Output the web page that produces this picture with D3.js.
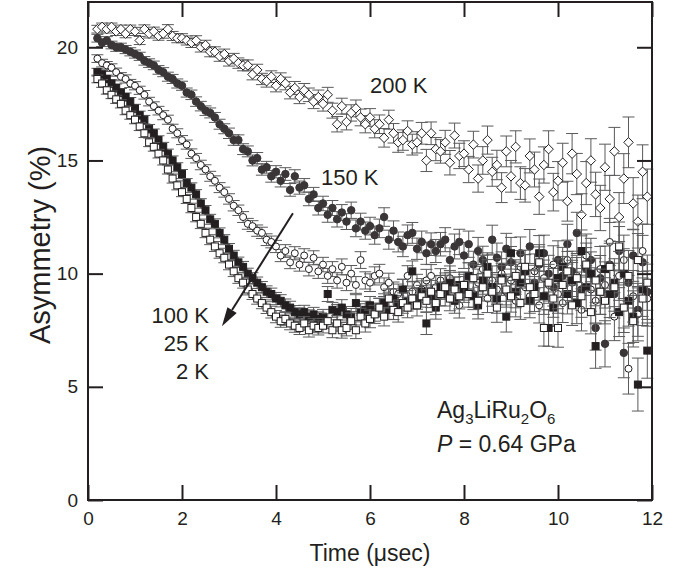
<!DOCTYPE html>
<html>
<head>
<meta charset="utf-8">
<script src="https://cdn.jsdelivr.net/npm/d3@7"></script>
<style>
  html, body { margin: 0; padding: 0; background: #fff; }
  svg { display: block; font-family: "Liberation Sans", Arial, Helvetica, sans-serif; }
</style>
</head>
<body>
<svg id="chart" width="675" height="573"></svg>
<script>
// ---------------- data ----------------
const times = [
  0.2,0.3,0.4,0.5,0.6,0.7,0.8,0.9,
  1.0,1.1,1.2,1.3,1.4,1.5,1.6,1.7,1.8,1.9,
  2.0,2.1,2.2,2.3,2.4,2.5,2.6,2.7,2.8,2.9,
  3.0,3.1,3.2,3.3,3.4,3.5,3.6,3.7,3.8,3.9,
  4.0,4.1,4.2,4.3,4.4,4.5,4.6,4.7,4.8,4.9,
  5.0,5.1,5.2,5.3,5.4,5.5,5.6,5.7,5.8,5.9,
  6.0,6.1,6.2,6.3,6.4,6.5,6.6,6.7,6.8,6.9,
  7.0,7.1,7.2,7.3,7.4,7.5,7.6,7.7,7.8,7.9,
  8.0,8.1,8.2,8.3,8.4,8.5,8.6,8.7,8.8,8.9,
  9.0,9.1,9.2,9.3,9.4,9.5,9.6,9.7,9.8,9.9,
  10.0,10.1,10.2,10.3,10.4,10.5,10.6,10.7,10.8,10.9,
  11.0,11.1,11.2,11.3,11.4,11.5,11.6,11.7,11.8,11.9
];

// error bar half-lengths (%), one per time bin
const errs = [
  0.17,0.17,0.17,0.17,0.18,0.18,0.18,0.18,
  0.18,0.18,0.19,0.19,0.19,0.19,0.20,0.20,0.20,0.20,
  0.20,0.20,0.21,0.21,0.21,0.21,0.22,0.22,0.22,0.22,
  0.23,0.23,0.23,0.24,0.24,0.24,0.25,0.25,0.26,0.26,
  0.27,0.27,0.28,0.28,0.29,0.29,0.30,0.30,0.31,0.31,
  0.32,0.33,0.33,0.34,0.35,0.35,0.36,0.37,0.37,0.38,
  0.39,0.40,0.41,0.41,0.42,0.43,0.44,0.45,0.45,0.46,
  0.47,0.48,0.49,0.50,0.51,0.52,0.53,0.54,0.55,0.56,
  0.57,0.58,0.59,0.60,0.61,0.62,0.64,0.65,0.66,0.68,
  0.70,0.71,0.72,0.74,0.75,0.77,0.78,0.80,0.81,0.83,
  0.85,0.86,0.88,0.89,0.91,0.93,0.95,0.96,0.98,1.00,
  1.02,1.04,1.06,1.08,1.10,1.12,1.14,1.17,1.19,1.22
];

const a200K = [
  20.8,20.9,20.8,20.9,20.7,20.8,20.6,20.8,
  20.7,20.3,20.8,20.6,20.7,20.5,20.6,20.8,20.5,20.4,
  20.4,20.3,20.2,20.3,20.0,20.1,19.8,19.8,19.6,19.7,
  19.4,19.5,19.3,19.2,19.2,18.8,19.0,18.6,18.5,18.7,
  18.3,18.6,18.4,18.0,18.2,17.8,18.1,17.9,17.6,17.8,
  17.5,17.9,17.2,16.6,17.4,16.7,17.1,17.3,16.9,16.6,
  16.9,16.4,16.6,16.0,16.8,16.2,15.8,15.9,16.3,15.7,
  15.8,16.2,15.0,16.2,15.5,15.4,15.8,14.9,16.1,15.2,
  15.3,14.6,15.7,14.2,15.0,15.9,14.5,14.8,13.8,15.4,
  14.3,15.6,14.0,13.9,15.2,14.6,13.4,14.8,15.5,13.6,
  14.1,14.9,13.2,15.3,14.4,12.6,14.0,15.0,13.5,12.9,
  14.7,13.3,15.4,12.5,14.2,15.8,13.1,12.3,14.5,13.4
];

const a150K = [
  20.4,20.2,20.3,20.1,20.0,20.0,19.9,19.8,
  19.7,19.6,19.4,19.3,19.2,19.0,18.9,18.7,18.6,18.4,
  18.3,18.0,17.9,17.6,17.4,17.2,17.1,16.9,16.6,16.4,
  16.2,15.9,15.9,15.5,15.4,15.0,15.1,14.6,14.7,14.3,
  14.5,14.1,14.4,13.7,14.3,13.8,13.9,13.3,13.5,12.9,
  13.1,12.6,12.9,12.4,12.7,12.3,12.8,12.0,12.3,11.9,
  12.1,11.7,12.0,12.5,11.5,11.9,11.4,11.2,11.7,11.8,
  11.1,11.4,10.9,11.3,11.0,11.3,11.5,10.6,11.2,11.4,
  10.8,11.3,10.4,11.0,10.6,10.2,11.5,10.7,10.3,11.1,
  10.5,9.8,10.9,10.1,11.2,9.6,10.4,10.9,10.0,9.4,
  10.6,9.9,11.3,10.1,11.8,9.3,10.2,10.6,7.6,9.8,
  6.9,10.4,9.1,11.0,6.5,9.6,10.8,8.4,10.5,9.2
];

const a100K = [
  19.5,19.3,19.2,19.1,18.9,18.7,18.6,18.4,
  18.3,18.1,17.9,17.6,17.4,17.2,17.0,16.8,16.4,16.2,
  15.9,15.7,15.3,15.1,14.8,14.6,14.3,14.1,13.8,13.6,
  13.3,13.0,12.8,12.5,12.2,12.1,11.9,11.8,11.5,11.4,
  11.2,10.8,11.0,10.5,10.9,10.4,10.8,10.2,10.7,10.1,
  10.4,9.9,10.2,9.7,10.3,9.6,10.0,9.5,10.6,9.7,
  9.6,9.9,10.0,9.4,9.6,9.2,9.1,9.3,9.9,9.2,
  9.5,9.3,9.7,9.9,9.4,9.7,9.5,9.8,9.3,8.6,
  9.4,9.9,9.1,9.6,10.2,8.9,9.7,9.3,10.0,9.2,
  9.7,8.8,10.3,9.4,9.0,10.1,8.6,9.8,9.5,10.4,
  9.1,8.7,10.6,9.6,9.9,8.4,10.8,9.3,8.8,10.2,
  9.5,11.4,8.1,9.9,10.6,5.8,9.0,8.2,11.0,8.9
];

const a25K = [
  18.9,18.8,18.6,18.4,18.2,18.0,17.8,17.6,
  17.3,17.0,16.8,16.4,16.2,15.9,15.6,15.3,15.0,14.7,
  14.4,14.0,13.8,13.5,13.1,12.8,12.4,12.2,11.8,11.5,
  11.1,10.8,10.5,10.3,10.0,9.8,9.6,9.4,9.2,9.1,
  8.9,8.8,8.6,8.5,8.3,8.2,8.3,8.1,8.2,8.0,
  8.1,9.1,8.4,8.3,8.5,8.2,8.1,8.7,8.3,8.4,
  8.6,8.3,8.5,8.7,8.4,8.9,8.6,9.3,8.8,10.1,
  8.9,9.2,7.8,9.0,8.5,9.4,9.1,9.6,8.8,9.5,
  9.3,9.9,9.0,8.6,9.7,10.3,9.4,8.9,9.8,8.1,
  10.9,9.2,9.6,10.1,8.8,9.4,10.9,9.0,7.6,8.5,
  9.8,10.3,9.1,9.7,8.7,11.0,9.4,10.0,6.8,9.2,
  10.2,9.1,9.6,8.3,10.0,8.8,8.1,5.1,9.3,6.6
];

const a2K = [
  18.6,18.4,18.1,17.9,17.7,17.5,17.2,17.0,
  16.8,16.5,16.2,15.8,15.6,15.3,15.0,14.6,14.2,13.9,
  13.6,13.3,12.9,12.5,12.2,11.8,11.5,11.2,10.9,10.7,
  10.4,10.1,9.8,9.6,9.3,9.1,8.9,8.7,8.5,8.3,
  8.1,7.9,8.0,7.8,7.7,7.6,7.8,7.5,7.7,7.6,
  7.7,7.9,7.5,7.8,7.5,7.6,7.9,7.5,8.1,7.8,
  8.0,8.2,8.5,8.1,8.9,8.4,8.3,8.7,8.5,8.9,
  8.6,9.0,8.8,9.2,8.7,9.1,9.4,8.9,9.3,9.0,
  9.5,9.1,9.8,8.8,9.4,10.0,9.2,8.5,9.7,9.3,
  9.0,9.9,8.7,10.3,9.4,9.1,10.5,7.6,9.6,8.9,
  7.6,9.5,10.1,8.6,9.8,9.0,10.4,8.3,9.7,9.2,
  8.8,10.3,9.4,11.2,8.5,9.9,7.9,10.6,8.9,9.6
];

const xTicks = [0, 2, 4, 6, 8, 10, 12];
const yTicks = [0, 5, 10, 15, 20];
const tempLabels = ["200 K", "150 K", "100 K", "25 K", "2 K"];

// ---------------- drawing ----------------
const svg = d3.select("#chart");
const x = d3.scaleLinear().domain([0, 12]).range([88, 652]);
const y = d3.scaleLinear().domain([0, 22]).range([500, 2]);

const ink = "#231f20";
const errColor = "#5a5a5c";

const series = [
  { name: "200 K", vals: a200K, shape: "diamond", fill: "#fff", stroke: ink, size: 9.5 },
  { name: "150 K", vals: a150K, shape: "circle",  fill: "#3a3536", stroke: "#3a3536", size: 8.5 },
  { name: "100 K", vals: a100K, shape: "circle",  fill: "#fff", stroke: ink, size: 8 },
  { name: "25 K",  vals: a25K,  shape: "square",  fill: "#231f20", stroke: ink, size: 8 },
  { name: "2 K",   vals: a2K,   shape: "square",  fill: "#fff", stroke: ink, size: 8 }
];

const plot = svg.append("g");
const capHalf = 6;

series.forEach(s => {
  const pts = times.map((t, i) => ({ t: t, v: s.vals[i], e: errs[i] }));
  const g = plot.append("g");
  const eb = g.append("g").attr("stroke", errColor).attr("stroke-width", 1).attr("fill", "none");
  eb.selectAll("line.v").data(pts).join("line")
    .attr("x1", d => x(d.t)).attr("x2", d => x(d.t))
    .attr("y1", d => y(d.v - d.e)).attr("y2", d => y(d.v + d.e));
  eb.selectAll("line.top").data(pts).join("line").attr("class", "top")
    .attr("x1", d => x(d.t) - capHalf).attr("x2", d => x(d.t) + capHalf)
    .attr("y1", d => y(d.v + d.e)).attr("y2", d => y(d.v + d.e));
  eb.selectAll("line.bot").data(pts).join("line").attr("class", "bot")
    .attr("x1", d => x(d.t) - capHalf).attr("x2", d => x(d.t) + capHalf)
    .attr("y1", d => y(d.v - d.e)).attr("y2", d => y(d.v - d.e));
  const mk = g.append("g").attr("fill", s.fill).attr("stroke", s.stroke).attr("stroke-width", 1);
  const r = s.size / 2;
  if (s.shape === "circle") {
    mk.selectAll("circle").data(pts).join("circle")
      .attr("cx", d => x(d.t)).attr("cy", d => y(d.v)).attr("r", r - 0.5);
  } else if (s.shape === "square") {
    mk.selectAll("rect").data(pts).join("rect")
      .attr("x", d => x(d.t) - r + 0.5).attr("y", d => y(d.v) - r + 0.5)
      .attr("width", s.size - 1).attr("height", s.size - 1);
  } else {
    mk.selectAll("path").data(pts).join("path")
      .attr("d", d => {
        const cx = x(d.t), cy = y(d.v);
        return `M${cx},${cy - r}L${cx + r},${cy}L${cx},${cy + r}L${cx - r},${cy}Z`;
      });
  }
});

// ---------------- axes ----------------
const tickLen = 15;
const fontTick = 19;
const axB = svg.append("g").attr("transform", "translate(0,500)")
  .call(d3.axisBottom(x).tickValues(xTicks).tickSize(-tickLen).tickPadding(12).tickFormat(d3.format("d")));
const axT = svg.append("g").attr("transform", "translate(0,2)")
  .call(d3.axisTop(x).tickValues(xTicks).tickSize(-tickLen).tickFormat(""));
const axL = svg.append("g").attr("transform", "translate(88,0)")
  .call(d3.axisLeft(y).tickValues(yTicks).tickSize(-tickLen).tickPadding(10).tickFormat(d3.format("d")));
const axR = svg.append("g").attr("transform", "translate(652,0)")
  .call(d3.axisRight(y).tickValues(yTicks).tickSize(-tickLen).tickFormat(""));

[axB, axT, axL, axR].forEach(a => {
  a.select(".domain").remove();
  a.selectAll(".tick line").attr("stroke", ink).attr("stroke-width", 2);
  a.selectAll(".tick text").attr("fill", ink)
    .style("font-family", "'Liberation Sans', Arial, sans-serif").style("font-size", fontTick + "px");
});

// frame
svg.append("rect").attr("x", 88).attr("y", 2).attr("width", 652 - 88).attr("height", 498)
  .attr("fill", "none").attr("stroke", ink).attr("stroke-width", 2);

// axis titles
svg.append("text").attr("x", 370).attr("y", 561).attr("text-anchor", "middle")
  .attr("fill", ink).style("font-size", "23px").text("Time (μsec)");
svg.append("text").attr("transform", "translate(50,245) rotate(-90)").attr("text-anchor", "middle")
  .attr("fill", ink).style("font-size", "29px").text("Asymmetry (%)");

// temperature labels
const tl = svg.append("g").attr("fill", ink).style("font-size", "22px");
tl.append("text").attr("x", 370).attr("y", 93).text(tempLabels[0]);
tl.append("text").attr("x", 321).attr("y", 185).text(tempLabels[1]);
tl.append("text").attr("x", 209).attr("y", 323).attr("text-anchor", "end").text(tempLabels[2]);
tl.append("text").attr("x", 209).attr("y", 351).attr("text-anchor", "end").text(tempLabels[3]);
tl.append("text").attr("x", 209).attr("y", 379).attr("text-anchor", "end").text(tempLabels[4]);

// arrow (from 150 K region toward low temperatures)
const ax0 = x(4.36), ay0 = y(12.67), ax1 = x(2.85), ay1 = y(7.68);
const dxA = ax1 - ax0, dyA = ay1 - ay0, LA = Math.hypot(dxA, dyA);
const ux = dxA / LA, uy = dyA / LA, headL = 19, headW = 5.5;
const bx = ax1 - ux * headL, by = ay1 - uy * headL;
svg.append("line").attr("x1", ax0).attr("y1", ay0).attr("x2", bx).attr("y2", by)
  .attr("stroke", ink).attr("stroke-width", 2);
svg.append("path")
  .attr("d", `M${ax1},${ay1}L${bx - uy * headW},${by + ux * headW}L${bx + uy * headW},${by - ux * headW}Z`)
  .attr("fill", ink);

// sample info
const info = svg.append("g").attr("fill", ink).style("font-size", "23px");
const t1 = info.append("text").attr("x", 437).attr("y", 418);
t1.append("tspan").text("Ag");
t1.append("tspan").attr("dy", 6).style("font-size", "15px").text("3");
t1.append("tspan").attr("dy", -6).text("LiRu");
t1.append("tspan").attr("dy", 6).style("font-size", "15px").text("2");
t1.append("tspan").attr("dy", -6).text("O");
t1.append("tspan").attr("dy", 6).style("font-size", "15px").text("6");
const t2 = info.append("text").attr("x", 437).attr("y", 452);
t2.append("tspan").style("font-style", "italic").text("P");
t2.append("tspan").text(" = 0.64 GPa");
</script>
</body>
</html>
